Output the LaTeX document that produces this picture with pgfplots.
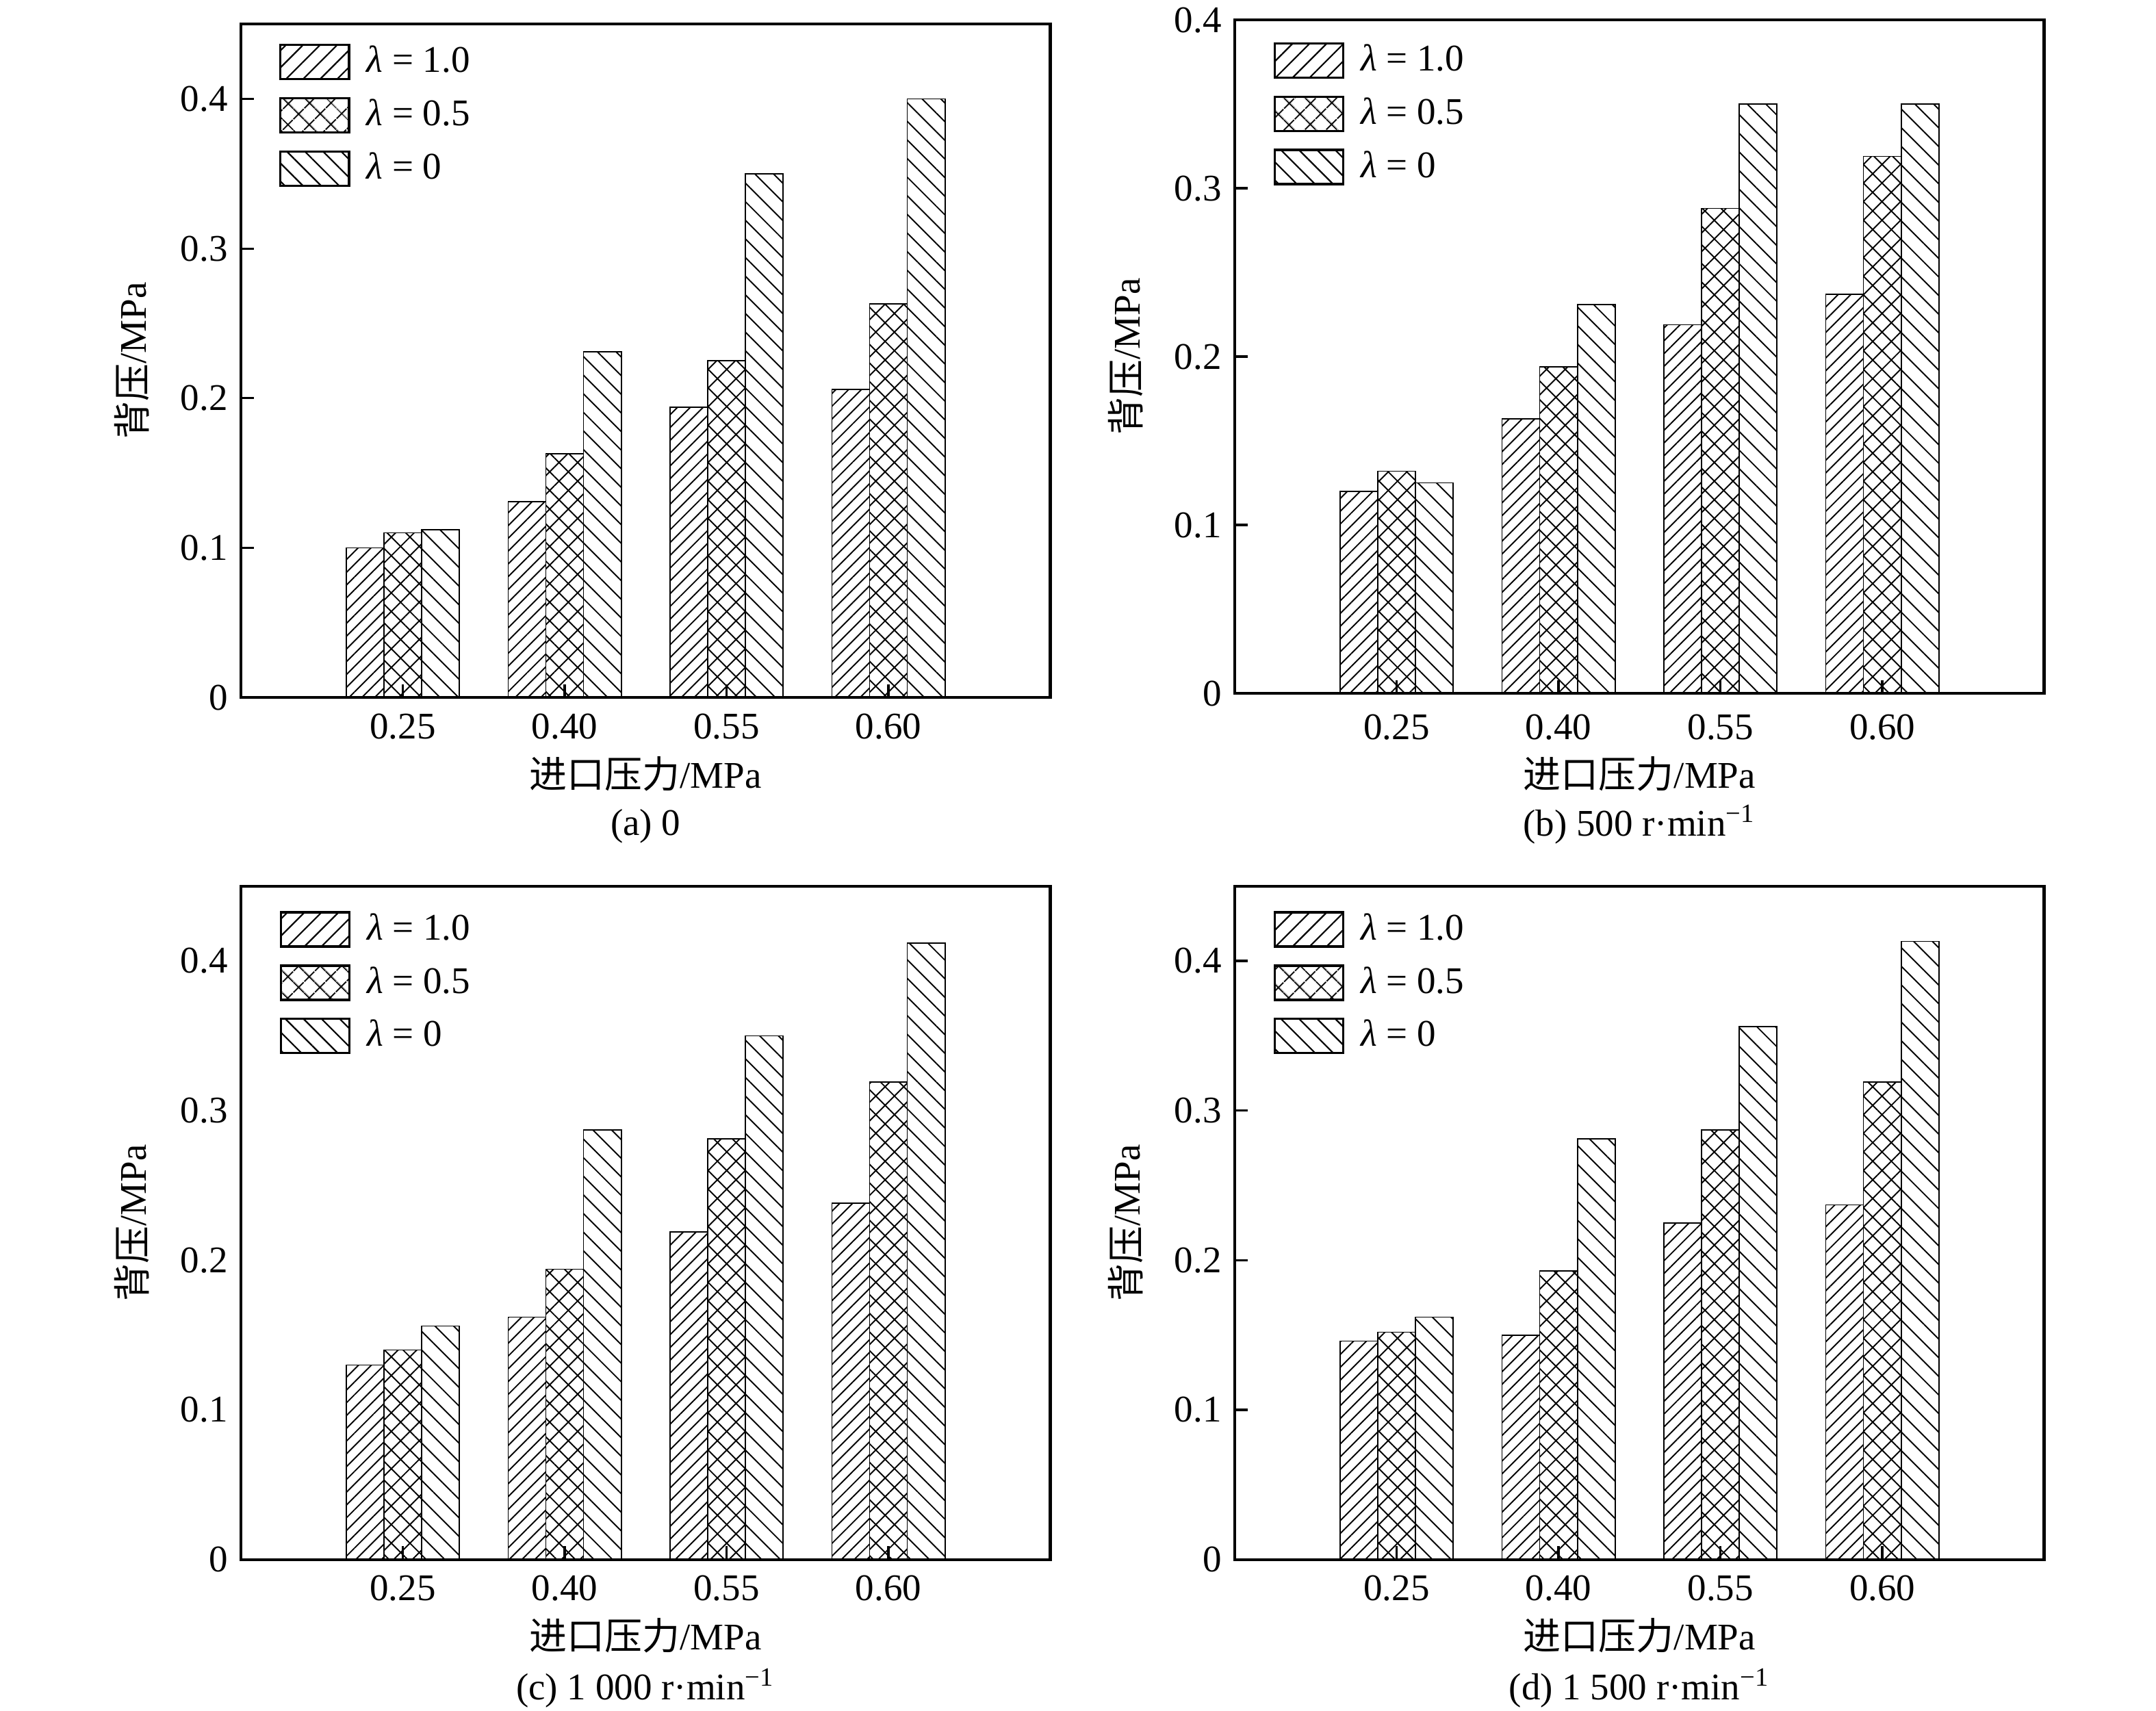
\documentclass[border=0pt]{standalone}
\usepackage{fontspec}
\setmainfont{Liberation Serif}
\newfontfamily\cjk{Noto Sans CJK SC}
\usepackage{pgfplots}
\pgfplotsset{compat=1.18}
\usetikzlibrary{patterns.meta}

\pgfplotsset{
 panel/.style={
  width=215pt, height=178.9pt, scale only axis,
  ybar=0pt, bar width=0.233,
  xmin=-1, xmax=4, ymin=0, ymax=0.45,
  xtick={0,1,2,3}, xticklabels={0.25,0.40,0.55,0.60},
  ytick={0,0.1,0.2,0.3,0.4}, yticklabels={0,0.1,0.2,0.3,0.4},
  tick align=inside, xtick pos=lower, ytick pos=left,
  major tick length=3.5pt, minor tick length=3.5pt,
  axis line style={line width=0.8pt},
  tick style={line width=0.6pt, black},
  /pgf/number format/assume math mode=true,
  font=\fontsize{10}{12}\selectfont,
  ticklabel style={font=\fontsize{10}{12}\selectfont},
  xticklabel style={yshift=-0.7pt},
  xlabel={{\cjk 进口压力}/MPa},
  ylabel={{\cjk 背压}/MPa},
  xlabel style={at={(axis description cs:0.5,-0.113)}, anchor=center},
  ylabel style={at={(axis description cs:-0.135,0.5)}, anchor=center},
  legend style={at={(rel axis cs:0.047,0.975)}, anchor=north west, draw=none, fill=none,
    row sep=2.6pt, inner sep=0pt, nodes={inner sep=1.5pt, font=\fontsize{10}{12}\selectfont}},
  legend cell align=left,
  axis on top, clip mode=individual,
 },
 s1/.style={draw=black, line width=0.3pt, pattern={Lines[angle=45,distance=2.4pt,line width=0.35pt]},
   legend image code/.code={\draw[draw=black,line width=0.6pt,pattern={Lines[angle=45,distance=3.2pt,line width=0.4pt]}] (0pt,-4.55pt) rectangle (18.2pt,4.55pt); \path (21.2pt,0pt);}},
 s2/.style={draw=black, line width=0.3pt, pattern={Hatch[angle=45,distance=3.5pt,line width=0.35pt]},
   legend image code/.code={\draw[draw=black,line width=0.6pt,pattern={Hatch[angle=45,distance=4pt,line width=0.4pt]}] (0pt,-4.55pt) rectangle (18.2pt,4.55pt); \path (21.2pt,0pt);}},
 s3/.style={draw=black, line width=0.3pt, pattern={Lines[angle=-45,distance=3.5pt,line width=0.35pt]},
   legend image code/.code={\draw[draw=black,line width=0.6pt,pattern={Lines[angle=-45,distance=3.4pt,line width=0.4pt]}] (0pt,-4.55pt) rectangle (18.2pt,4.55pt); \path (21.2pt,0pt);}},
}

\pgfplotstableread{
x l1 l05 l0
0 0.100 0.110 0.112
1 0.131 0.163 0.231
2 0.194 0.225 0.350
3 0.206 0.263 0.400
}\dataA
\pgfplotstableread{
x l1 l05 l0
0 0.120 0.132 0.125
1 0.163 0.194 0.231
2 0.219 0.288 0.350
3 0.237 0.319 0.350
}\dataB
\pgfplotstableread{
x l1 l05 l0
0 0.130 0.140 0.156
1 0.162 0.194 0.287
2 0.219 0.281 0.350
3 0.238 0.319 0.412
}\dataC
\pgfplotstableread{
x l1 l05 l0
0 0.146 0.152 0.162
1 0.150 0.193 0.281
2 0.225 0.287 0.356
3 0.237 0.319 0.413
}\dataD

\begin{document}
\begin{tikzpicture}
\path[use as bounding box] (0,0) rectangle (572.7pt,454.5pt);

% (a)
\begin{axis}[panel, at={(64.0pt,269.2pt)}, anchor=south west,
  legend style={at={(rel axis cs:0.047,0.977)}}]
\addplot[s1] table[x=x,y=l1]{\dataA};
\addplot[s2] table[x=x,y=l05]{\dataA};
\addplot[s3] table[x=x,y=l0]{\dataA};
\legend{\textit{λ} = 1.0, \textit{λ} = 0.5, \textit{λ} = 0}
\node at (axis description cs:0.5,-0.191) {(a) 0};
\end{axis}

% (b)
\begin{axis}[panel, ymax=0.4, at={(328.0pt,270.3pt)}, anchor=south west,
  legend style={at={(rel axis cs:0.047,0.973)}},
  xticklabel style={yshift=-1.4pt},
  xlabel style={at={(axis description cs:0.5,-0.12)}}]
\addplot[s1] table[x=x,y=l1]{\dataB};
\addplot[s2] table[x=x,y=l05]{\dataB};
\addplot[s3] table[x=x,y=l0]{\dataB};
\legend{\textit{λ} = 1.0, \textit{λ} = 0.5, \textit{λ} = 0}
\node at (axis description cs:0.5,-0.195) {(b) 500 r·min\textsuperscript{−1}};
\end{axis}

% (c)
\begin{axis}[panel, at={(64.0pt,40.2pt)}, anchor=south west,
  legend style={at={(rel axis cs:0.047,0.969)}},
  ytick style={draw=none}, minor ytick={0.05,0.15,0.25,0.35},
  minor y tick style={line width=0.6pt, black}]
\addplot[s1] table[x=x,y=l1]{\dataC};
\addplot[s2] table[x=x,y=l05]{\dataC};
\addplot[s3] table[x=x,y=l0]{\dataC};
\legend{\textit{λ} = 1.0, \textit{λ} = 0.5, \textit{λ} = 0}
\node at (axis description cs:0.5,-0.191) {(c) 1 000 r·min\textsuperscript{−1}};
\end{axis}

% (d)
\begin{axis}[panel, at={(328.0pt,40.2pt)}, anchor=south west,
  legend style={at={(rel axis cs:0.047,0.969)}}]
\addplot[s1] table[x=x,y=l1]{\dataD};
\addplot[s2] table[x=x,y=l05]{\dataD};
\addplot[s3] table[x=x,y=l0]{\dataD};
\legend{\textit{λ} = 1.0, \textit{λ} = 0.5, \textit{λ} = 0}
\node at (axis description cs:0.5,-0.191) {(d) 1 500 r·min\textsuperscript{−1}};
\end{axis}
\end{tikzpicture}
\end{document}
